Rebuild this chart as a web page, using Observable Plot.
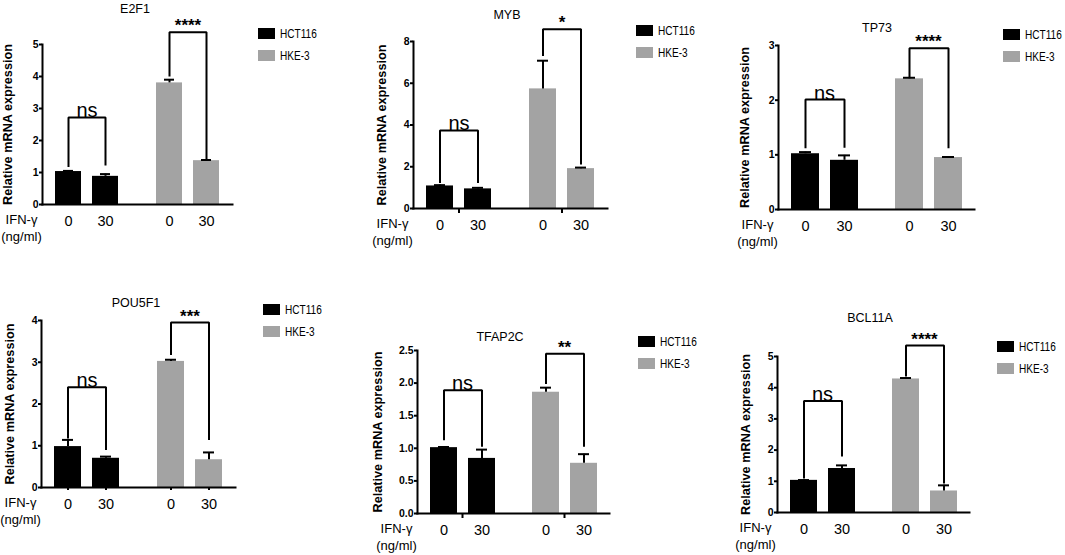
<!DOCTYPE html>
<html>
<head>
<meta charset="utf-8">
<script src="https://cdn.jsdelivr.net/npm/d3@7"></script>
<script src="https://cdn.jsdelivr.net/npm/@observablehq/plot@0.6"></script>
<style>
  body { margin: 0; background: #fff; }
  #fig { position: relative; width: 1065px; height: 555px; overflow: hidden; background: #fff;
         font-family: "Liberation Sans", Arial, sans-serif; color: #000; }
  .panel { position: absolute; }
  .title { position: absolute; transform: translate(-50%, -50%); font-size: 12.5px; white-space: nowrap; }
  .legend { position: absolute; font-size: 12px; }
  .legend .row { display: flex; align-items: center; height: 11px; margin-bottom: 11px; white-space: nowrap; }
  .legend .sw { width: 17px; height: 11px; margin-right: 5px; flex: none; }
  .legend .tx { display: inline-block; transform: scaleX(0.84); transform-origin: left center; }
  .ifn { position: absolute; width: 41px; text-align: center; font-size: 13px; line-height: 17px; white-space: nowrap; }
  svg g[aria-label="y-axis tick label"] { font-weight: bold; font-size: 10.5px; }
  svg g[aria-label="y-axis label"] { font-weight: bold; font-size: 12.7px; }
  svg g[aria-label="x-axis tick label"] { font-size: 14.5px; }
  svg g[aria-label="y-axis tick"], svg g[aria-label="x-axis tick"] { stroke-width: 2px; }
</style>
</head>
<body>
<div id="fig"></div>
<script>
// ---------- data ----------
const genes = ["E2F1", "MYB", "TP73", "POU5F1", "TFAP2C", "BCL11A"];
const cellLines = ["HCT116", "HKE-3"];
const doses = ["0", "30"];
const hct116_0      = [1.03, 1.08, 1.02, 0.98, 1.01, 1.03];
const hct116_0_err  = [1.05, 1.12, 1.05, 1.14, 1.02, 1.04];
const hct116_30     = [0.88, 0.94, 0.90, 0.70, 0.845, 1.41];
const hct116_30_err = [0.95, 0.99, 0.99, 0.74, 0.98, 1.51];
const hke3_0        = [3.80, 5.73, 2.39, 3.02, 1.86, 4.28];
const hke3_0_err    = [3.90, 7.08, 2.41, 3.06, 1.93, 4.31];
const hke3_30       = [1.37, 1.91, 0.95, 0.665, 0.77, 0.69];
const hke3_30_err   = [1.39, 1.96, 0.96, 0.84, 0.91, 0.87];
const yMax   = [5, 8, 3, 4, 2.5, 5];
const yTicks = [[0,1,2,3,4,5], [0,2,4,6,8], [0,1,2,3], [0,1,2,3,4], [0,0.5,1,1.5,2,2.5], [0,1,2,3,4,5]];
const yTickDecimals = [0, 0, 0, 0, 1, 0];
const nsLabel = "ns";
const sigLabels = ["****", "*", "****", "***", "**", "****"];
// brackets: [left leg end, bracket height, right leg end]
const nsBrackets  = [[1.20, 2.72, 1.25], [1.27, 3.74, 1.27], [1.14, 2.01, 1.15], [1.20, 2.40, 0.92], [1.14, 1.89, 1.04], [1.12, 3.57, 1.83]];
const sigBrackets = [[4.03, 5.38, 1.40], [7.35, 8.59, 2.15], [2.43, 2.95, 1.14], [3.20, 3.95, 1.16], [2.00, 2.45, 1.04], [4.39, 5.35, 0.96]];
const colors = ["#000000", "#a3a3a3"];
const yLabel = "Relative mRNA expression";
const ifnLabel = ["IFN-γ", "(ng/ml)"];

// ---------- layout (page positions and styles) ----------
const layout = [
  {axisX: 42,  axisEnd: 233, y0: 204, yTop: 44,  labelDist: 34, title: [135, 9],   legend: [258, 28],  fxTicks: false, xTicks: 0},
  {axisX: 413, axisEnd: 608, y0: 208, yTop: 41,  labelDist: 31, title: [507, 15],  legend: [636, 25],  fxTicks: true,  xTicks: 0},
  {axisX: 778, axisEnd: 974, y0: 209, yTop: 45,  labelDist: 33, title: [877, 28],  legend: [1003, 29], fxTicks: false, xTicks: 0},
  {axisX: 41,  axisEnd: 236, y0: 487, yTop: 320, labelDist: 31, title: [136, 303], legend: [263, 304], fxTicks: false, xTicks: 3},
  {axisX: 417, axisEnd: 610, y0: 513, yTop: 350, labelDist: 39, title: [500, 337], legend: [638, 336], fxTicks: true,  xTicks: 0},
  {axisX: 776, axisEnd: 970, y0: 512, yTop: 356, labelDist: 31, title: [870, 318], legend: [997, 341], fxTicks: false, xTicks: 0}
];

const fig = document.getElementById("fig");
const FONT = '"Liberation Sans", Arial, sans-serif';

genes.forEach((gene, i) => {
  const L = layout[i];
  const mL = 50, mR = 4, mT = 65, mB = 36;
  const width = L.axisEnd - L.axisX + mL + mR;
  const height = L.y0 - L.yTop + mT + mB;

  const bars = [
    {line: cellLines[0], dose: doses[0], v: hct116_0[i],  err: hct116_0_err[i]},
    {line: cellLines[0], dose: doses[1], v: hct116_30[i], err: hct116_30_err[i]},
    {line: cellLines[1], dose: doses[0], v: hke3_0[i],    err: hke3_0_err[i]},
    {line: cellLines[1], dose: doses[1], v: hke3_30[i],   err: hke3_30_err[i]}
  ];
  const bracketPts = [];
  [[cellLines[0], nsBrackets[i]], [cellLines[1], sigBrackets[i]]].forEach(([line, b]) => {
    bracketPts.push({id: line, line, dose: doses[0], v: b[0]});
    bracketPts.push({id: line, line, dose: doses[0], v: b[1]});
    bracketPts.push({id: line, line, dose: doses[1], v: b[1]});
    bracketPts.push({id: line, line, dose: doses[1], v: b[2]});
  });
  const nsText = [{line: cellLines[0], v: nsBrackets[i][1], text: nsLabel}];
  const sigText = [{line: cellLines[1], v: sigBrackets[i][1], text: sigLabels[i]}];

  const marks = [
    Plot.barY(bars, {fx: "line", x: "dose", y: "v", fill: "line"}),
    Plot.ruleX(bars, {fx: "line", x: "dose", y1: "v", y2: "err", stroke: "#000", strokeWidth: 2}),
    Plot.tickY(bars, {fx: "line", x: "dose", y: "err", stroke: "#000", strokeWidth: 2, insetLeft: 8, insetRight: 8}),
    Plot.line(bracketPts, {fx: "line", x: "dose", y: "v", z: "id", stroke: "#000", strokeWidth: 2, strokeLinejoin: "miter", strokeLinecap: "square"}),
    Plot.text(nsText, {fx: "line", y: "v", text: "text", lineAnchor: "bottom", dy: 0, fontSize: 20}),
    Plot.text(sigText, {fx: "line", y: "v", text: "text", lineAnchor: "bottom", dy: -1, fontSize: 17, fontWeight: "bold"}),
    Plot.frame({anchor: "bottom", facet: "super", stroke: "#000", strokeWidth: 2}),
    Plot.frame({anchor: "left", facet: "super", stroke: "#000", strokeWidth: 2})
  ];
  if (L.fxTicks) marks.push(Plot.axisFx({anchor: "bottom", tickSize: 5, tickFormat: () => "", label: null, strokeWidth: 2}));

  const chart = Plot.plot({
    width, height,
    marginLeft: mL, marginRight: mR, marginTop: mT, marginBottom: mB,
    style: {fontFamily: FONT, fontSize: "14px", color: "#000", background: "transparent", overflow: "visible"},
    fx: {domain: cellLines, paddingInner: 0.1165, paddingOuter: 0, axis: null},
    x: {domain: doses, paddingInner: 0.29, paddingOuter: 0.318, tickSize: L.xTicks, tickPadding: 11 - L.xTicks, label: null},
    y: {domain: [0, yMax[i]], ticks: yTicks[i], tickSize: 3, tickPadding: 1,
        tickFormat: d3.format("." + yTickDecimals[i] + "f"),
        label: yLabel, labelAnchor: "center", labelArrow: "none", labelOffset: L.labelDist + 6},
    color: {domain: cellLines, range: colors},
    marks
  });
  const wrap = document.createElement("div");
  wrap.className = "panel";
  wrap.style.left = (L.axisX - mL) + "px";
  wrap.style.top = (L.yTop - mT) + "px";
  wrap.appendChild(chart);
  fig.appendChild(wrap);

  const t = document.createElement("div");
  t.className = "title";
  t.style.left = L.title[0] + "px";
  t.style.top = L.title[1] + "px";
  t.textContent = gene;
  fig.appendChild(t);

  const lg = document.createElement("div");
  lg.className = "legend";
  lg.style.left = L.legend[0] + "px";
  lg.style.top = L.legend[1] + "px";
  cellLines.forEach((c, k) => {
    const row = document.createElement("div");
    row.className = "row";
    const sw = document.createElement("div");
    sw.className = "sw";
    sw.style.background = colors[k];
    const tx = document.createElement("span");
    tx.className = "tx";
    tx.textContent = c;
    row.appendChild(sw); row.appendChild(tx);
    lg.appendChild(row);
  });
  fig.appendChild(lg);

  const ifn = document.createElement("div");
  ifn.className = "ifn";
  ifn.style.left = Math.max(0, L.axisX - 41) + "px";
  ifn.style.top = (L.y0 + 7) + "px";
  ifn.innerHTML = ifnLabel.join("<br>");
  fig.appendChild(ifn);
});
</script>
</body>
</html>
